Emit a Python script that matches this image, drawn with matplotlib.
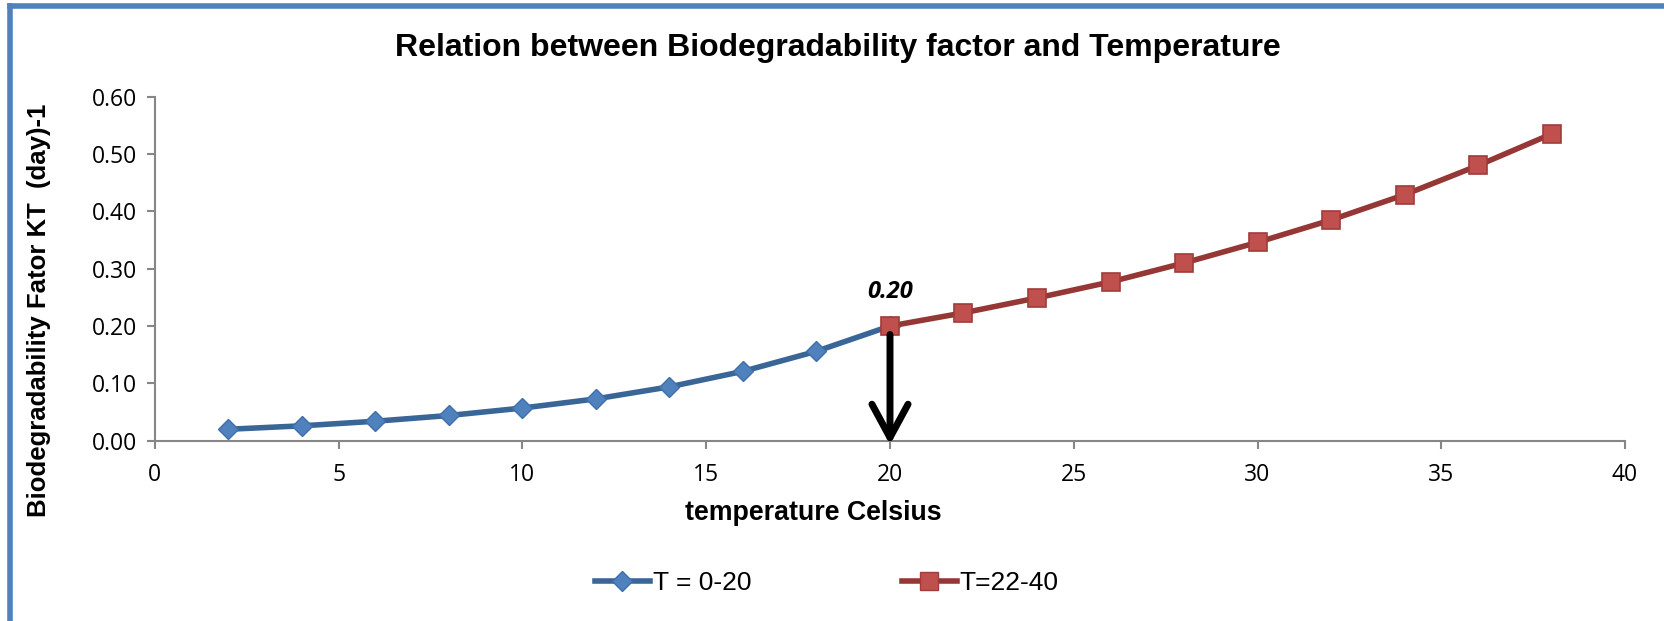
import numpy as np
import matplotlib
matplotlib.use("Agg")
import matplotlib.pyplot as plt
from matplotlib.lines import Line2D

# Biodegradability factor KT (day^-1) against temperature
temp_low = [2, 4, 6, 8, 10, 12, 14, 16, 18, 20]
kt_low = [0.020, 0.026, 0.034, 0.044, 0.057, 0.073, 0.094, 0.121, 0.156, 0.200]

temp_high = [20, 22, 24, 26, 28, 30, 32, 34, 36, 38]
kt_high = [0.200, 0.223, 0.249, 0.277, 0.310, 0.346, 0.385, 0.429, 0.480, 0.535]

mark_t = 20
mark_kt = 0.20

blue_line = "#3A6597"
blue_fill = "#4F81BD"
red_line = "#953735"
red_fill = "#C0504D"

arial = "Liberation Sans"
calib = "Open Sans"

fig = plt.figure(figsize=(16.64, 6.21), dpi=100)
ax = fig.add_axes([0.0931, 0.2903, 0.8835, 0.554])

ax.plot(temp_low, kt_low, color=blue_line, lw=4, marker="D", markersize=10,
        markerfacecolor=blue_fill, markeredgecolor="#3F6FAA", markeredgewidth=1,
        clip_on=False, zorder=3)
ax.plot(temp_high, kt_high, color=red_line, lw=4, marker="s", markersize=13.5,
        markerfacecolor=red_fill, markeredgecolor="#A03C3A", markeredgewidth=1.2,
        clip_on=False, zorder=4)

# arrow dropping from the 20 °C point to the axis
ax.annotate("", xy=(mark_t, -0.012), xytext=(mark_t, mark_kt - 0.01),
            arrowprops=dict(arrowstyle="->,head_length=1.2,head_width=0.65",
                            color="black", lw=5, mutation_scale=20),
            annotation_clip=False, zorder=5)
ax.text(mark_t, 0.259, "%.2f" % mark_kt, ha="center", va="center",
        fontsize=17, fontweight="bold", fontstyle="italic", family=calib)

ax.set_xlim(0, 40)
ax.set_ylim(0, 0.6)
ax.set_xticks(np.arange(0, 41, 5))
ax.set_yticks(np.arange(0, 0.61, 0.1))
ax.set_yticklabels(["%.2f" % v for v in np.arange(0, 0.61, 0.1)])

for s in ["top", "right"]:
    ax.spines[s].set_visible(False)
for s in ["left", "bottom"]:
    ax.spines[s].set_color("#868686")
    ax.spines[s].set_linewidth(1.5)
ax.tick_params(direction="out", length=6, width=1.5, color="#868686",
               labelsize=16.5, pad=7)
ax.tick_params(axis="x", pad=10)
for lab in ax.get_xticklabels() + ax.get_yticklabels():
    lab.set_family(calib)

ax.set_xlabel("temperature Celsius", fontsize=19.3, fontweight="bold",
              family=arial, va="center")
ax.xaxis.set_label_coords(0.448, -0.209)
ax.set_ylabel("Biodegradability Fator KT  (day)-1", fontsize=18.5, fontweight="bold",
              family=arial, va="center")
ax.yaxis.set_label_coords(-0.079, 0.38)
fig.text(0.5036, 0.922, "Relation between Biodegradability factor and Temperature",
         ha="center", va="center", fontsize=23, fontweight="bold", family=arial)

handles = [
    Line2D([], [], color=blue_line, lw=4, marker="D", markersize=10,
           markerfacecolor=blue_fill, markeredgecolor="#3F6FAA"),
    Line2D([], [], color=red_line, lw=4, marker="s", markersize=13.5,
           markerfacecolor=red_fill, markeredgecolor="#A03C3A"),
]
fig.legend(handles, ["T = 0-20", "T=22-40"], loc="center", ncol=2,
           bbox_to_anchor=(0.4968, 0.061), frameon=False,
           prop={"family": arial, "size": 19},
           handlelength=2.1, handletextpad=0.1, columnspacing=5.7)

# chart frame
fig.add_artist(Line2D([0.0063, 0.0063], [0.0, 0.99], transform=fig.transFigure,
                      color="#4F81BD", lw=4))
fig.add_artist(Line2D([0.0063, 1.0], [0.99, 0.99], transform=fig.transFigure,
                      color="#4F81BD", lw=4))

fig.savefig("out.png", dpi=100)
